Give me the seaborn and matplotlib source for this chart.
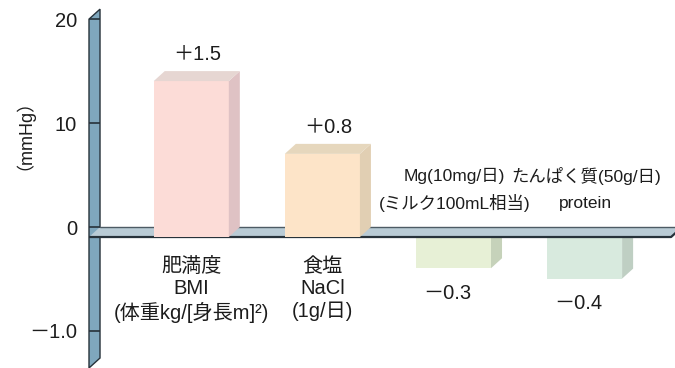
import numpy as np
import pandas as pd
import matplotlib
matplotlib.use("Agg")
import matplotlib.pyplot as plt
from matplotlib.patches import Polygon
import seaborn as sns

# ---- data -------------------------------------------------------------
categories = ["BMI", "NaCl", "Mg", "protein"]
values = [1.5, 0.8, -0.3, -0.4]
category_labels = [
    "肥満度\nBMI\n(体重kg/[身長m]²)",
    "食塩\nNaCl\n(1g/日)",
    "Mg(10mg/日)\n(ミルク100mL相当)",
    "たんぱく質(50g/日)\nprotein",
]
tick_values = [2.0, 1.0, 0.0, -1.0]
tick_labels = ["20", "10", "0", "－1.0"]
unit_label = "（mmHg）"

# ---- colours ----------------------------------------------------------
front_colors = ["#fcdcd7", "#fde4c8", "#e7f0d6", "#d8eade"]
top_colors = ["#e6d6d2", "#e6d7bd", "#dde6cc", "#cfe0d4"]
side_colors = ["#dfc2c4", "#e1cfb3", "#c6d2ba", "#bfcfc3"]
wall_color = "#7fa7bd"
floor_color = "#b9cbd5"
edge_dark = "#27323a"
text_color = "#1c1c1c"

sns.set_style("white")
plt.rcParams["font.family"] = ["Liberation Sans", "Noto Sans CJK JP"]

fig = plt.figure(figsize=(6.75, 3.68), dpi=100)
ax = fig.add_axes([89 / 675, 0, 586 / 675, 1])

df = pd.DataFrame({"category": categories, "value": values})
sns.barplot(data=df, x="category", y="value", hue="category",
            palette=front_colors, saturation=1, width=0.573,
            errorbar=None, linewidth=0, legend=False, ax=ax)

xlim = (-0.78, 3.69)
ylim = (-1.26, 2.28)
ax.set_xlim(*xlim)
ax.set_ylim(*ylim)

# depth of the pseudo-3D extrusion (data units)
ddx, ddy = 0.084, 0.096

big_font = 14.5
small_font = 12.5
small_line_step = 0.26  # vertical distance between label lines above the floor

bars = sorted(ax.patches, key=lambda p: p.get_x())
for i, bar in enumerate(bars):
    x, w, h = bar.get_x(), bar.get_width(), bar.get_height()
    z = 3 if h > 0 else 1
    bar.set_zorder(z)
    side = Polygon([(x + w, 0), (x + w + ddx, ddy), (x + w + ddx, h + ddy), (x + w, h)],
                   closed=True, fc=side_colors[i], ec="none", zorder=z)
    ax.add_patch(side)
    if h > 0:
        top = Polygon([(x, h), (x + w, h), (x + w + ddx, h + ddy), (x + ddx, h + ddy)],
                      closed=True, fc=top_colors[i], ec="none", zorder=z)
        ax.add_patch(top)

    cx = x + w / 2
    sign = "＋" if h > 0 else "－"
    txt = f"{sign}{abs(values[i]):.1f}"
    if h > 0:
        ax.text(cx + ddx / 2, h + ddy + 0.07, txt, ha="center", va="bottom",
                fontsize=big_font, color=text_color, zorder=5)
        ax.text(cx, -0.19, category_labels[i], ha="center", va="top",
                multialignment="center", fontsize=big_font, linespacing=1.22,
                color=text_color, zorder=5)
    else:
        ax.text(cx - 0.045, h - 0.15, txt, ha="center", va="top",
                fontsize=big_font, color=text_color, zorder=5)
        # labels of the negative bars sit above the floor, one text per line
        for k, line in enumerate(category_labels[i].split("\n")):
            ax.text(cx + 0.01, 0.587 - k * small_line_step, line,
                    ha="center", va="center", fontsize=small_font,
                    color=text_color, zorder=5)

# vertical wall (left), seen edge-on
x0 = xlim[0]
top_front = max(tick_values) + ddy
wall = Polygon([(x0, ylim[0]), (x0, top_front), (x0 + ddx, top_front + ddy),
                (x0 + ddx, ylim[0] + ddy)], closed=True, fc=wall_color,
               ec=edge_dark, lw=1.0, zorder=1.5, clip_on=False)
ax.add_patch(wall)

# floor slab at zero
x_end = xlim[1] - 0.03
floor = Polygon([(x0, 0), (x_end, 0), (x_end + ddx, ddy), (x0 + ddx, ddy)],
                closed=True, fc=floor_color, ec="none", zorder=2, clip_on=False)
ax.add_patch(floor)
ax.plot([x0 + ddx, x_end + ddx], [ddy, ddy], color="#4d5b64", lw=1.0, zorder=2.1)
ax.plot([x0, x_end, x_end + ddx], [0, 0, ddy], color=edge_dark, lw=1.6,
        zorder=2.2, solid_capstyle="butt")

# value scale on the back plane
ax.set_axisbelow(False)
ax.set_yticks(np.array(tick_values) + ddy, labels=tick_labels)
ax.tick_params(axis="y", direction="in", length=7.9, width=1.2, color=edge_dark,
               pad=8.6, labelsize=big_font, labelcolor=text_color, left=True)
ax.set_xticks([])
ax.set_xlabel("")
ax.set_ylabel(unit_label, fontsize=13, color=text_color)
ax.yaxis.set_label_coords(-0.111, 0.66)
for s in ax.spines.values():
    s.set_visible(False)

fig.savefig("out.png", dpi=100)
